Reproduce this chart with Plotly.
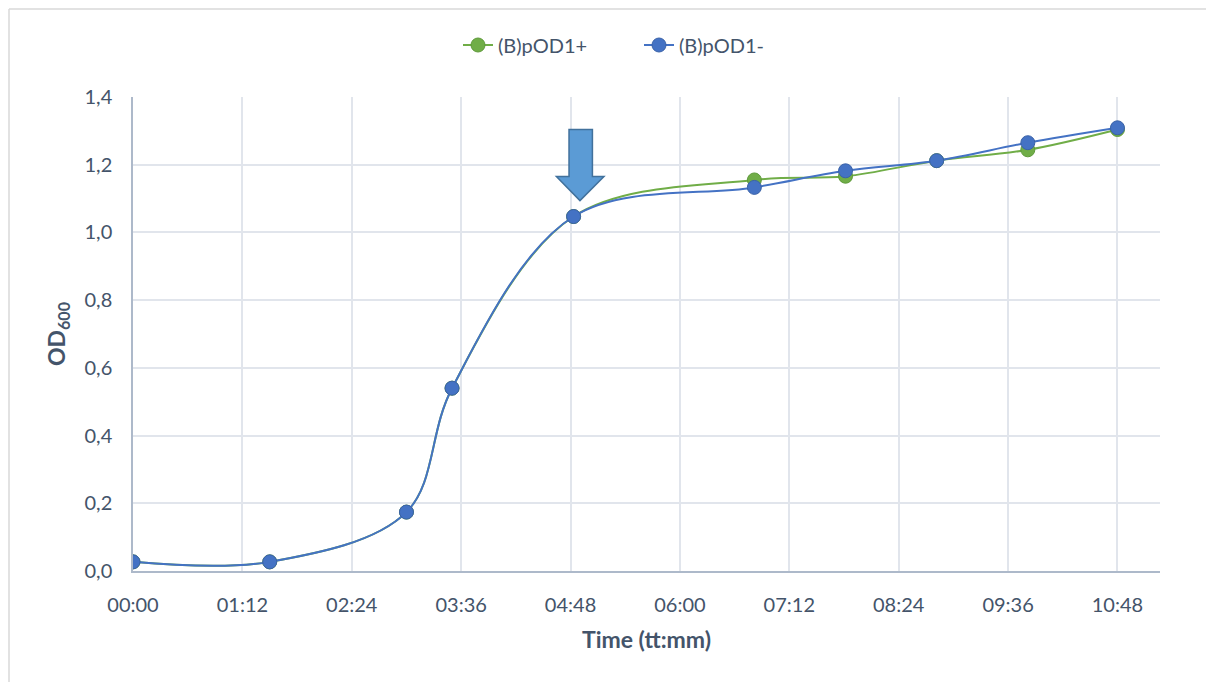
import plotly.graph_objects as go

# ---- data ----
time_labels = ["00:00", "01:30", "03:00", "03:30", "04:50", "06:49", "07:49", "08:49", "09:49", "10:48"]
od_plus = [0.027, 0.027, 0.174, 0.540, 1.047, 1.155, 1.166, 1.212, 1.244, 1.304]
od_minus = [0.027, 0.027, 0.174, 0.540, 1.047, 1.133, 1.182, 1.212, 1.265, 1.309]
tick_labels = ["00:00", "01:12", "02:24", "03:36", "04:48", "06:00", "07:12", "08:24", "09:36", "10:48"]
y_ticks = [0, 0.2, 0.4, 0.6, 0.8, 1.0, 1.2, 1.4]


def to_min(s):
    h, m = s.split(":")
    return int(h) * 60 + int(m)


t_min = [to_min(s) for s in time_labels]
tick_vals = [to_min(s) for s in tick_labels]

GREEN = "#70AD47"
BLUE = "#4472C4"
TXT = "#44546A"
FONT = "Lato, 'Open Sans', sans-serif"

# page body has an 8px margin; compensate so the plot area lands at x 133..1160, y 97..571
OFF = 8
W, H = 1214 - OFF, 682 - OFF
L, R, T, B = 133 - OFF, 54, 97 - OFF, 111
PW, PH = W - L - R, H - T - B


def px_x(px):
    return (px - OFF - L) / PW


def px_y(py):
    return (H - B - (py - OFF)) / PH


fig = go.Figure()
fig.add_trace(go.Scatter(
    x=t_min, y=od_plus, name="(B)pOD1+", mode="lines+markers",
    line=dict(color=GREEN, width=2, shape="spline", smoothing=1.0),
    marker=dict(size=14, color=GREEN, line=dict(color="#5E9A3A", width=1)),
))
fig.add_trace(go.Scatter(
    x=t_min, y=od_minus, name="(B)pOD1-", mode="lines+markers",
    line=dict(color=BLUE, width=2, shape="spline", smoothing=1.0),
    marker=dict(size=14, color=BLUE, line=dict(color="#3A62A8", width=1)),
))

# arrow annotation (block arrow)
ax = [287.0, 302.4, 302.4, 310.0, 294.2, 278.7, 287.0]
ay = [1.304, 1.304, 1.165, 1.165, 1.094, 1.165, 1.165]
path = "M " + " L ".join(f"{x},{y}" for x, y in zip(ax, ay)) + " Z"
fig.add_shape(type="path", path=path, xref="x", yref="y",
              fillcolor="#5B9BD5", line=dict(color="#41719C", width=1.5), layer="above")

# outer chart border (top and left visible)
fig.add_shape(type="line", xref="paper", yref="paper",
              x0=px_x(9), x1=px_x(1230), y0=px_y(9), y1=px_y(9),
              line=dict(color="#D9D9D9", width=1.5))
fig.add_shape(type="line", xref="paper", yref="paper",
              x0=px_x(9), x1=px_x(9), y0=px_y(9), y1=px_y(700),
              line=dict(color="#D9D9D9", width=1.5))

fig.update_layout(
    width=W, height=H,
    margin=dict(l=L, r=R, t=T, b=B),
    paper_bgcolor="white", plot_bgcolor="white",
    separators=", ",
    font=dict(family=FONT, size=20, color=TXT),
    showlegend=True,
    legend=dict(orientation="h", x=px_x(458), xanchor="left", y=px_y(45), yanchor="middle",
                font=dict(size=20, color=TXT), bgcolor="rgba(0,0,0,0)",
                entrywidth=136, entrywidthmode="pixels"),
    xaxis=dict(
        range=[0, 676], tickvals=tick_vals, ticktext=tick_labels,
        showgrid=True, gridcolor="#E1E5EC", gridwidth=1.5,
        showline=True, linecolor="#ADB9CA", linewidth=1.5,
        ticks="outside", ticklen=15, tickcolor="rgba(0,0,0,0)", zeroline=False,
        tickfont=dict(size=20, color=TXT),
        title=dict(text="<b>Time (tt:mm)</b>", font=dict(size=23, color=TXT), standoff=17),
    ),
    yaxis=dict(
        range=[0, 1.4], tickvals=y_ticks, tickformat=".1f",
        showgrid=True, gridcolor="#E1E5EC", gridwidth=1.5,
        showline=True, linecolor="#ADB9CA", linewidth=1.5,
        ticks="outside", ticklen=15, tickcolor="rgba(0,0,0,0)", zeroline=False,
        tickfont=dict(size=20, color=TXT),
        title=dict(text="<b>OD<sub>600</sub></b>", font=dict(size=23, color=TXT), standoff=12),
    ),
)

fig.write_html("out.html")
